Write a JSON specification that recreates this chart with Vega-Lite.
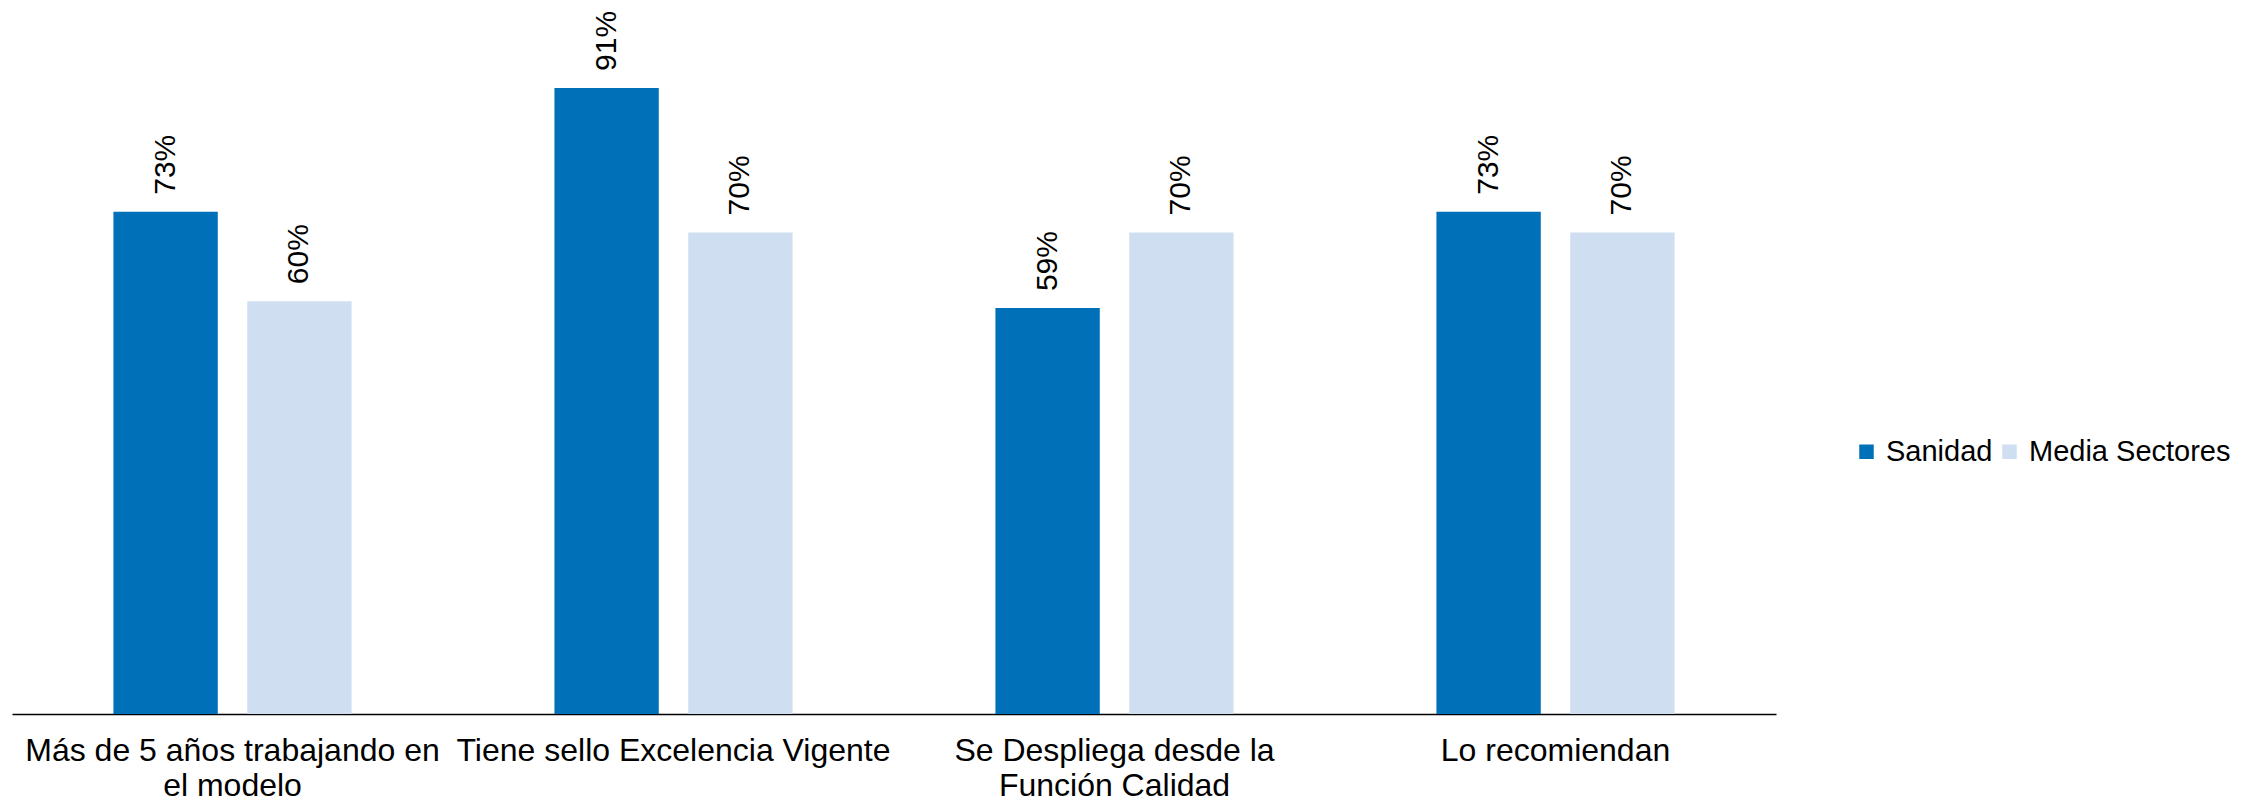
{
  "$schema": "https://vega.github.io/schema/vega-lite/v6.json",
  "width": 1764,
  "height": 688,
  "autosize": "none",
  "padding": {"left": 12, "top": 26, "right": 475, "bottom": 89},
  "background": "white",
  "config": {"view": {"stroke": null}, "font": "Liberation Sans"},
  "data": {
    "values": [
      {"categoria": "Más de 5 años trabajando en el modelo", "serie": "Sanidad", "valor": 0.73},
      {"categoria": "Más de 5 años trabajando en el modelo", "serie": "Media Sectores", "valor": 0.60},
      {"categoria": "Tiene sello Excelencia Vigente", "serie": "Sanidad", "valor": 0.91},
      {"categoria": "Tiene sello Excelencia Vigente", "serie": "Media Sectores", "valor": 0.70},
      {"categoria": "Se Despliega desde la Función Calidad", "serie": "Sanidad", "valor": 0.59},
      {"categoria": "Se Despliega desde la Función Calidad", "serie": "Media Sectores", "valor": 0.70},
      {"categoria": "Lo recomiendan", "serie": "Sanidad", "valor": 0.73},
      {"categoria": "Lo recomiendan", "serie": "Media Sectores", "valor": 0.70}
    ]
  },
  "encoding": {
    "x": {
      "field": "categoria",
      "type": "nominal",
      "sort": ["Más de 5 años trabajando en el modelo", "Tiene sello Excelencia Vigente", "Se Despliega desde la Función Calidad", "Lo recomiendan"],
      "scale": {"paddingInner": 0.46, "paddingOuter": 0.23},
      "axis": {
        "title": null,
        "ticks": false,
        "domainColor": "#000000",
        "domainWidth": 1.5,
        "labelAngle": 0,
        "labelFontSize": 32,
        "labelColor": "#000000",
        "labelPadding": 21,
        "labelLineHeight": 35,
        "labelLimit": 600,
        "labelExpr": "datum.value == 'Más de 5 años trabajando en el modelo' ? ['Más de 5 años trabajando en', 'el modelo'] : datum.value == 'Se Despliega desde la Función Calidad' ? ['Se Despliega desde la', 'Función Calidad'] : datum.value"
      }
    },
    "xOffset": {
      "field": "serie",
      "type": "nominal",
      "sort": ["Sanidad", "Media Sectores"],
      "scale": {"paddingInner": 0.22, "paddingOuter": 0}
    },
    "y": {
      "field": "valor",
      "type": "quantitative",
      "scale": {"domain": [0, 1]},
      "axis": null
    }
  },
  "layer": [
    {
      "mark": {"type": "bar"},
      "encoding": {
        "color": {
          "field": "serie",
          "type": "nominal",
          "sort": ["Sanidad", "Media Sectores"],
          "scale": {"domain": ["Sanidad", "Media Sectores"], "range": ["#0070B8", "#CFDFF1"]},
          "legend": {
            "orient": "none",
            "legendX": 1840,
            "legendY": 411,
            "direction": "horizontal",
            "title": null,
            "symbolType": "square",
            "symbolSize": 210,
            "symbolStrokeWidth": 0,
            "labelFontSize": 29,
            "labelLimit": 400,
            "labelColor": "#000000",
            "labelOffset": 5,
            "columnPadding": 2
          }
        }
      }
    },
    {
      "mark": {"type": "text", "angle": 270, "align": "left", "baseline": "middle", "dx": 17, "fontSize": 30, "color": "#000000"},
      "encoding": {
        "text": {"field": "valor", "type": "quantitative", "format": ".0%"}
      }
    }
  ]
}
